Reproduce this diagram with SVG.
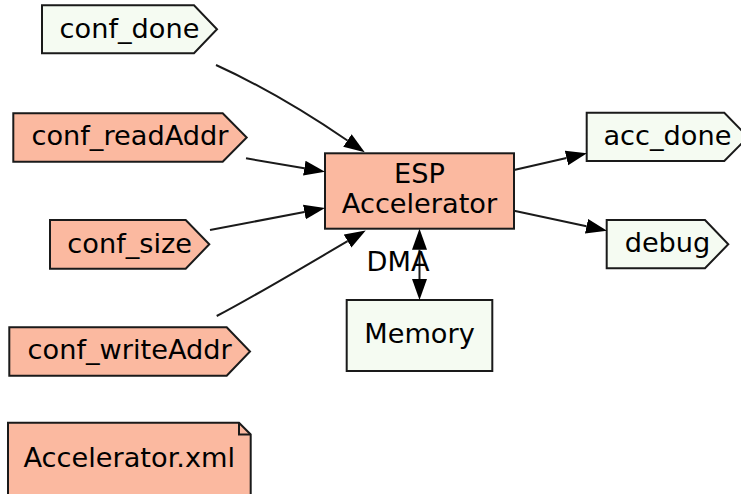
<svg xmlns="http://www.w3.org/2000/svg" width="741" height="494" viewBox="0 0 741 494">
  <style>
    .hot { fill: #fbb9a0; stroke: #1a1a1a; stroke-width: 2; }
    .cool { fill: #f5fbf2; stroke: #1a1a1a; stroke-width: 2; }
    .fold { fill: none; stroke: #1a1a1a; stroke-width: 2; }
    text { font-family: "DejaVu Sans", "Liberation Sans", sans-serif; font-size: 27.2px; fill: #000; text-anchor: middle; }
    .edge { fill: none; stroke: #1a1a1a; stroke-width: 2; }
  </style>
  <defs>
    <marker id="arrow" markerUnits="userSpaceOnUse" markerWidth="22" markerHeight="16" refX="0" refY="7.5" orient="auto-start-reverse" viewBox="0 0 22 15">
      <path d="M0,0 L21,7.5 L0,15 z" fill="#000"/>
    </marker>
  </defs>

  <!-- input ports -->
  <g id="conf_done">
    <polygon class="cool" points="42,5.3 194,5.3 217,29.3 194,53.3 42,53.3"/>
    <text x="129.5" y="37.5">conf_done</text>
  </g>
  <g id="conf_readAddr">
    <polygon class="hot" points="13.3,113.3 222.7,113.3 246.7,137.5 222.7,161.7 13.3,161.7"/>
    <text x="130" y="145">conf_readAddr</text>
  </g>
  <g id="conf_size">
    <polygon class="hot" points="50,220 185.7,220 209.3,244.3 185.7,268.7 50,268.7"/>
    <text x="129.7" y="252.5">conf_size</text>
  </g>
  <g id="conf_writeAddr">
    <polygon class="hot" points="9.3,327.3 226.7,327.3 250,351.5 226.7,375.7 9.3,375.7"/>
    <text x="129.7" y="359">conf_writeAddr</text>
  </g>

  <!-- source file note -->
  <g id="accelerator_xml">
    <polygon class="hot" points="8,422.7 239,422.7 250.7,434.5 250.7,497 8,497"/>
    <polyline class="fold" points="239,422.7 239,434.5 250.7,434.5"/>
    <text x="129.3" y="467">Accelerator.xml</text>
  </g>

  <!-- accelerator core -->
  <g id="esp_accelerator">
    <rect class="hot" x="325" y="153.3" width="189" height="75.4"/>
    <text x="419.5" y="183">ESP</text>
    <text x="419.5" y="213">Accelerator</text>
  </g>

  <g id="memory">
    <rect class="cool" x="346.7" y="300" width="145.6" height="71"/>
    <text x="419.5" y="342.5">Memory</text>
  </g>

  <!-- output ports -->
  <g id="acc_done">
    <polygon class="cool" points="586.7,112.7 724.3,112.7 748,137 724.3,161 586.7,161"/>
    <text x="667.4" y="145">acc_done</text>
  </g>
  <g id="debug">
    <polygon class="cool" points="606.7,220 705,220 728.3,244.2 705,268.3 606.7,268.3"/>
    <text x="667.5" y="251.5">debug</text>
  </g>

  <!-- connectors -->
  <g id="edges">
    <path class="edge" marker-end="url(#arrow)" d="M216,65 C260,85 310,115 347.4,140.5"/>
    <path class="edge" marker-end="url(#arrow)" d="M246,158.3 L304.3,168.2"/>
    <path class="edge" marker-end="url(#arrow)" d="M210,230 L304.4,212"/>
    <path class="edge" marker-end="url(#arrow)" d="M216.7,316 C255,296 305,266 347.6,241.1"/>
    <path class="edge" marker-end="url(#arrow)" d="M514,170 L566.5,158"/>
    <path class="edge" marker-end="url(#arrow)" d="M514,210.7 L586.5,226.3"/>
    <path class="edge" marker-start="url(#arrow)" marker-end="url(#arrow)" d="M419.5,249.7 L419.5,279"/>
    <text x="398" y="271">DMA</text>
  </g>
</svg>
